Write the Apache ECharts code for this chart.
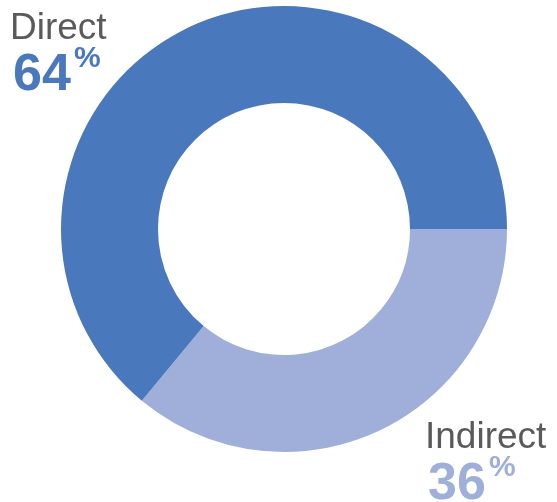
<!DOCTYPE html>
<html><head><meta charset="utf-8">
<script src="https://cdn.jsdelivr.net/npm/echarts@6/dist/echarts.min.js"></script>
<style>html,body{margin:0;padding:0;background:#fff}#c{width:557px;height:502px}</style>
</head><body><div id="c"></div>
<script>
const categories = ['Indirect', 'Direct'];
const values = [36, 64];
const colors = ['#9fafd9', '#4a78bd'];

const chart = echarts.init(document.getElementById('c'), null, {renderer: 'canvas'});
const font = '"Liberation Sans", Arial, sans-serif';
function labelGroup(i, x, y) {
  return [
    {type: 'text', left: x, top: y - 1, style: {text: categories[i], font: '37px ' + font, fill: '#5a5a5a'}},
    {type: 'text', left: x + 3, top: y + 39, style: {text: String(values[i]), font: 'bold 52px ' + font, fill: colors[i]}},
    {type: 'text', left: x + 64, top: y + 33, style: {text: '%', font: 'bold 30px ' + font, fill: colors[i]}}
  ];
}
chart.setOption({
  animation: false,
  series: [{
    type: 'pie',
    center: [284, 229],
    radius: [126, 223],
    startAngle: 0,
    clockwise: true,
    label: {show: false},
    labelLine: {show: false},
    emphasis: {disabled: true},
    data: categories.map((c, i) => ({name: c, value: values[i], itemStyle: {color: colors[i]}}))
  }],
  graphic: [].concat(labelGroup(1, 10, 11), labelGroup(0, 425, 420))
});
</script></body></html>
